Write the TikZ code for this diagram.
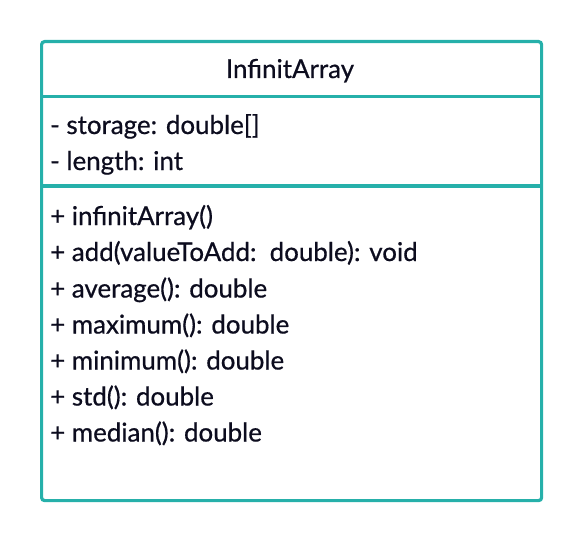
\documentclass[tikz,border=0pt]{standalone}
\usepackage{fontspec}
\setmainfont{Lato}[FakeBold=0.6]
\definecolor{umlteal}{RGB}{38,176,170}
\definecolor{umltext}{RGB}{12,12,30}
\begin{document}
\begin{tikzpicture}[x=1pt,y=-1pt,
  umltxt/.style={anchor=base west,inner sep=0pt,text=umltext,font=\fontsize{25.9}{30}\selectfont},
  umltitle/.style={anchor=base,inner sep=0pt,text=umltext,font=\fontsize{25.9}{30}\selectfont},
  umlline/.style={draw=umlteal,line width=3.2pt}]
\useasboundingbox (0,0) rectangle (580,540);
\node[draw=umlteal,line width=3.2pt,rounded corners=3pt,minimum width=500pt,minimum height=459pt,anchor=north west,inner sep=0pt] (box) at (40,40) {};
\coordinate (s1l) at (40,96.5);
\coordinate (s1r) at (540,96.5);
\coordinate (s2l) at (40,186);
\coordinate (s2r) at (540,186);
\draw[umlline] (s1l) -- (s1r);
\draw[umlline] (s2l) -- (s2r);
\node[umltitle] (title) at (290,78) {InfinitArray};
\node[umltxt] (a1) at (50,134) {- storage: double[]};
\node[umltxt] (a2) at (50,170) {- length: int};
\node[umltxt] (m1) at (50,225) {+ infinitArray()};
\node[umltxt] (m2) at (50,261) {+ add(valueToAdd:\ \ double): void};
\node[umltxt] (m3) at (50,297.5) {+ average(): double};
\node[umltxt] (m4) at (50,333.5) {+ maximum(): double};
\node[umltxt] (m5) at (50,369.5) {+ minimum(): double};
\node[umltxt] (m6) at (50,405.5) {+ std(): double};
\node[umltxt] (m7) at (50,441.5) {+ median(): double};
\end{tikzpicture}
\end{document}
